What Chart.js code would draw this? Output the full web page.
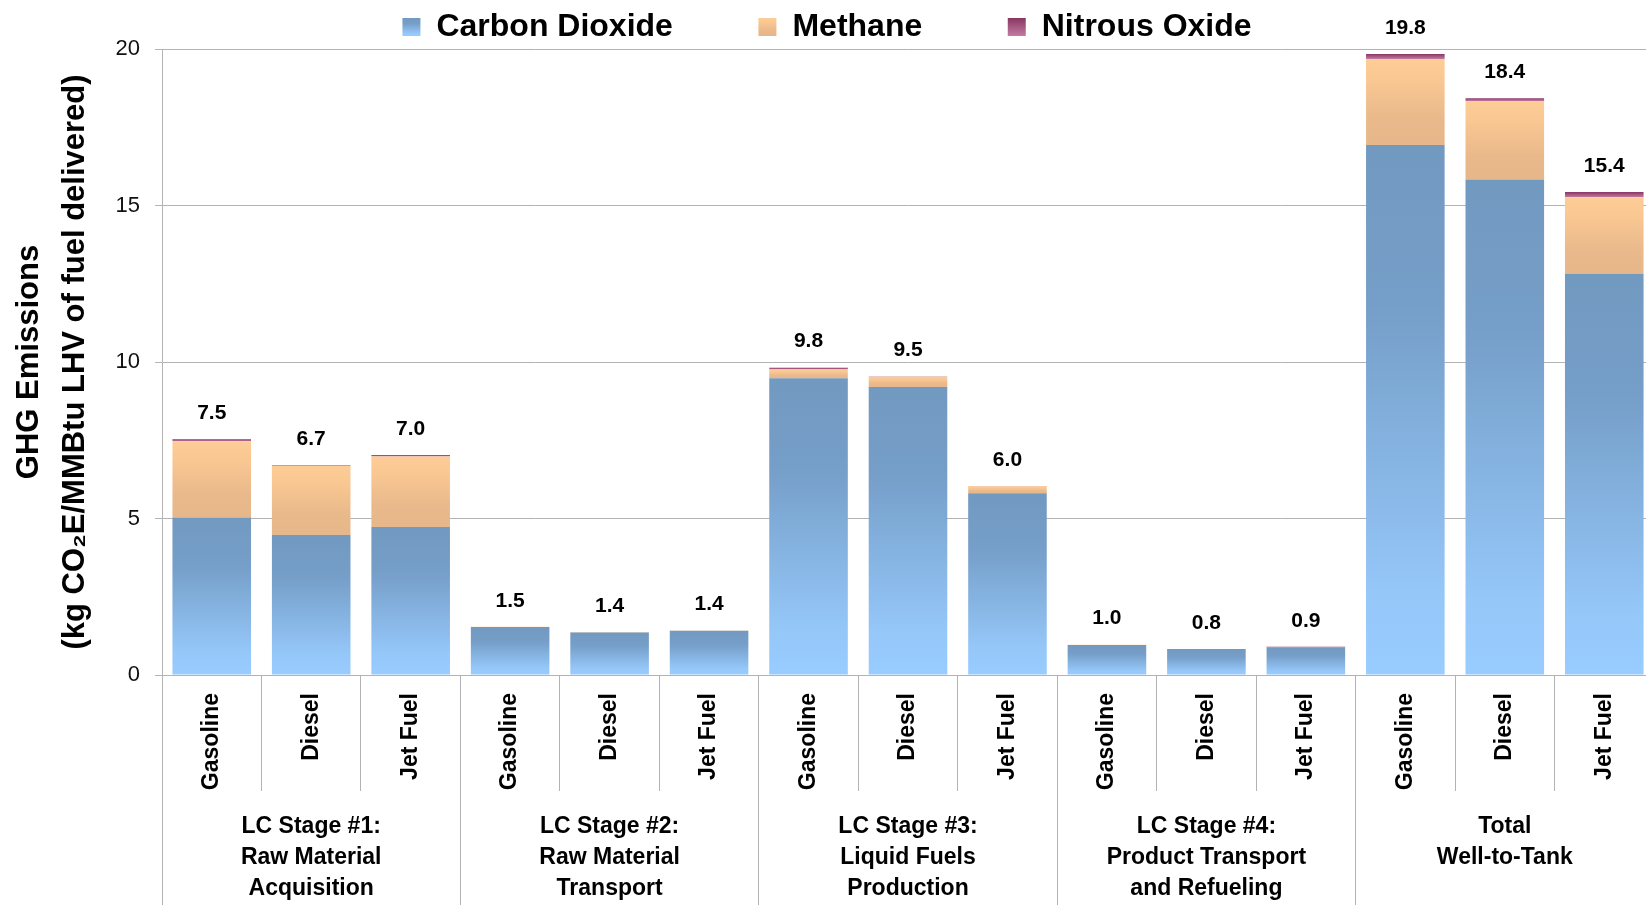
<!DOCTYPE html>
<html>
<head>
<meta charset="utf-8">
<script src="https://cdn.jsdelivr.net/npm/chart.js@4.4.1/dist/chart.umd.min.js"></script>
<style>
  html, body { margin: 0; padding: 0; background: #fff; overflow: hidden; }
  #ghg-chart { display: block; }
</style>
</head>
<body>
<canvas id="ghg-chart" width="1654" height="905"></canvas>
<script>
// Fuels (inner axis) and life cycle stages (outer axis)
const fuels = ["Gasoline", "Diesel", "Jet Fuel", "Gasoline", "Diesel", "Jet Fuel", "Gasoline", "Diesel", "Jet Fuel",
  "Gasoline", "Diesel", "Jet Fuel", "Gasoline", "Diesel", "Jet Fuel"];
const stages = [
  ["LC Stage #1:", "Raw Material", "Acquisition"],
  ["LC Stage #2:", "Raw Material", "Transport"],
  ["LC Stage #3:", "Liquid Fuels", "Production"],
  ["LC Stage #4:", "Product Transport", "and Refueling"],
  ["Total", "Well-to-Tank"],
];

// kg CO2E / MMBtu LHV of fuel delivered
const carbonDioxide = [5.03, 4.47, 4.73, 1.53, 1.36, 1.41, 9.48, 9.20, 5.81, 0.96, 0.83, 0.89, 16.93, 15.83, 12.82];
const methane = [2.44, 2.21, 2.25, 0.01, 0.01, 0.01, 0.28, 0.33, 0.22, 0.01, 0.00, 0.00, 2.75, 2.51, 2.44];
const nitrousOxide = [0.06, 0.01, 0.05, 0.00, 0.00, 0.00, 0.06, 0.01, 0.01, 0.00, 0.00, 0.01, 0.16, 0.09, 0.17];

const yTicks = [0, 5, 10, 15, 20];

const series = [carbonDioxide, methane, nitrousOxide];
const FONT = '"Liberation Sans", Arial, sans-serif';
const GRID = "#b3b3b3";

const co2Stops = [[0, "#7299c0"], [0.3, "#759ec8"], [0.85, "#95c7f9"], [1, "#99ccff"]];
const ch4Stops = [[0, "#fecc96"], [0.25, "#f9c792"], [0.7, "#e9b98b"], [1, "#e6b78a"]];
const n2oStops = [[0, "#8a3760"], [1, "#c27ca4"]];

// gradient per stacked segment, like the spreadsheet fill
function segmentFill(stops) {
  return function (ctx) {
    const chart = ctx.chart;
    if (ctx.type !== "data" || !chart.chartArea) return stops[0][1];
    const y = chart.scales.y;
    let base = 0;
    for (let k = 0; k < ctx.datasetIndex; k++) base += series[k][ctx.dataIndex];
    const top = y.getPixelForValue(base + series[ctx.datasetIndex][ctx.dataIndex]);
    const bottom = y.getPixelForValue(base);
    if (!isFinite(top) || !isFinite(bottom) || bottom - top < 0.5) return stops[0][1];
    const g = chart.ctx.createLinearGradient(0, top, 0, bottom);
    stops.forEach(s => g.addColorStop(s[0], s[1]));
    return g;
  };
}

function legendFill(c, stops) {
  const g = c.createLinearGradient(0, 18, 0, 36);
  stops.forEach(s => g.addColorStop(s[0], s[1]));
  return g;
}

// total on top of each stack
const totalLabels = {
  id: "totalLabels",
  afterDatasetsDraw(chart) {
    const { ctx, scales: { x, y } } = chart;
    ctx.save();
    ctx.font = "bold 21px " + FONT;
    ctx.fillStyle = "#000";
    ctx.textAlign = "center";
    ctx.textBaseline = "middle";
    fuels.forEach((f, i) => {
      const total = carbonDioxide[i] + methane[i] + nitrousOxide[i];
      ctx.fillText(total.toFixed(1), x.getPixelForValue(i), y.getPixelForValue(total) - 26);
    });
    ctx.restore();
  }
};

const gap = "        \u2009";
const legendStops = [co2Stops, ch4Stops, n2oStops];

new Chart(document.getElementById("ghg-chart"), {
  type: "bar",
  data: {
    labels: fuels,
    datasets: [
      { label: "Carbon Dioxide", data: carbonDioxide, backgroundColor: segmentFill(co2Stops) },
      { label: "Methane", data: methane, backgroundColor: segmentFill(ch4Stops) },
      { label: "Nitrous Oxide", data: nitrousOxide, backgroundColor: segmentFill(n2oStops) },
    ],
  },
  plugins: [totalLabels],
  options: {
    responsive: false,
    animation: false,
    layout: { padding: { top: 3 } },
    datasets: { bar: { barPercentage: 0.79, categoryPercentage: 1, borderWidth: 0 } },
    plugins: {
      tooltip: { enabled: false },
      legend: {
        position: "top",
        maxHeight: 46,
        labels: {
          font: { family: FONT, size: 32, weight: "bold" },
          color: "#000",
          boxWidth: 18,
          boxHeight: 18,
          padding: 8,
          generateLabels(chart) {
            return chart.data.datasets.map((ds, i) => ({
              text: ds.label + (i < 2 ? gap : ""),
              fillStyle: legendFill(chart.ctx, legendStops[i]),
              strokeStyle: "rgba(0,0,0,0)",
              lineWidth: 0,
              hidden: false,
              datasetIndex: i,
            }));
          },
        },
      },
    },
    scales: {
      x: {
        stacked: true,
        offset: true,
        weight: 0,
        grid: { offset: true, drawOnChartArea: false, tickLength: 116, color: GRID },
        border: { display: true, color: GRID },
        ticks: {
          autoSkip: false,
          minRotation: 90,
          maxRotation: 90,
          padding: -98,
          color: "#000",
          font: { family: FONT, size: 23, weight: "bold" },
        },
        afterFit(scale) { scale.height = 116; },
      },
      x2: {
        type: "category",
        labels: stages,
        position: "bottom",
        offset: true,
        weight: 1,
        grid: { offset: true, drawOnChartArea: false, tickLength: 114, color: GRID },
        border: { display: false },
        ticks: {
          autoSkip: false,
          maxRotation: 0,
          padding: -94,
          color: "#000",
          font: { family: FONT, size: 23, weight: "bold", lineHeight: 1.35 },
        },
        afterFit(scale) { scale.height = 114; },
      },
      y: {
        stacked: true,
        min: yTicks[0],
        max: yTicks[yTicks.length - 1],
        afterBuildTicks(scale) { scale.ticks = yTicks.map(v => ({ value: v })); },
        grid: { color: GRID, tickLength: 7 },
        border: { color: GRID },
        ticks: {
          padding: 15,
          color: "#111",
          font: { family: FONT, size: 22 },
        },
        title: {
          display: true,
          text: ["GHG Emissions", "(kg CO\u2082E/MMBtu LHV of fuel delivered)"],
          color: "#000",
          font: { family: FONT, size: 31, weight: "bold", lineHeight: 1.5 },
          padding: { top: 6, bottom: 0 },
        },
        afterFit(scale) { scale.width = 162; },
      },
    },
  },
});
</script>
</body>
</html>
